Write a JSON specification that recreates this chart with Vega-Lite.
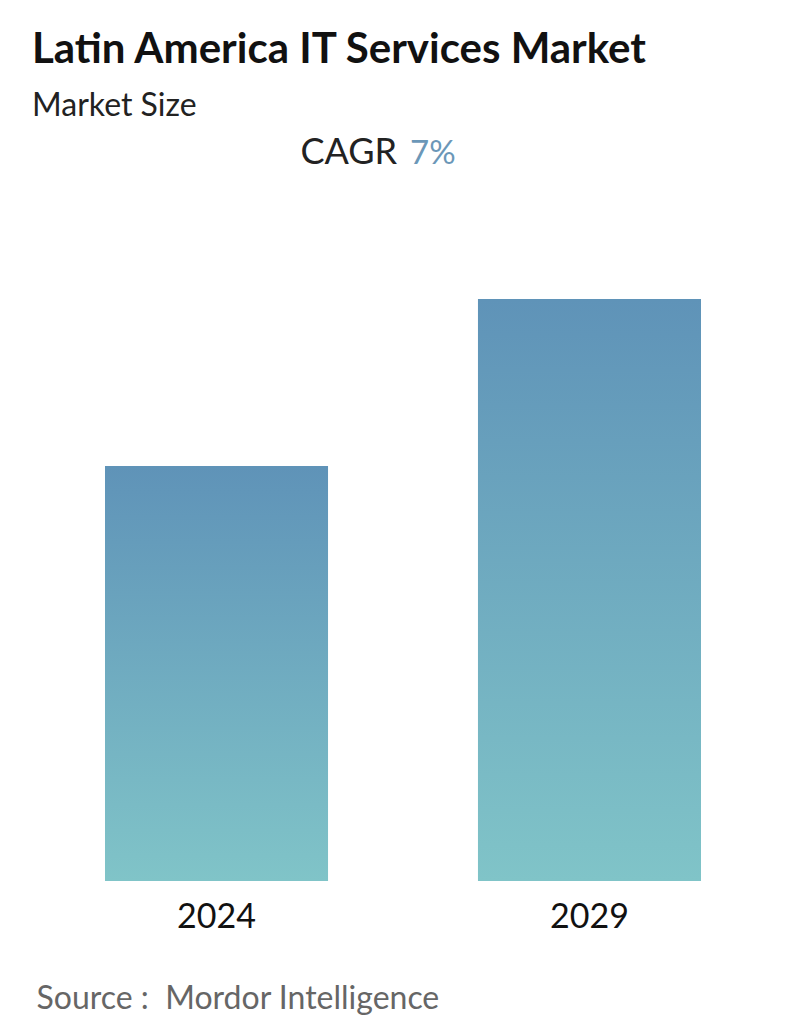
{
  "$schema": "https://vega.github.io/schema/vega-lite/v6.json",
  "width": 734,
  "height": 751,
  "autosize": {"type": "none"},
  "padding": {"left": 36, "right": 26, "top": 130, "bottom": 153},
  "background": "#ffffff",
  "config": {"view": {"stroke": null}, "font": "Lato"},
  "title": {
    "text": "Latin America IT Services Market",
    "subtitle": "Market Size",
    "anchor": "start",
    "frame": "group",
    "font": "Lato",
    "fontSize": 42,
    "fontWeight": "bold",
    "color": "#111111",
    "subtitleFont": "Lato",
    "subtitleFontSize": 32,
    "subtitleColor": "#222222",
    "subtitlePadding": 19,
    "offset": 7,
    "dx": -4
  },
  "layer": [
    {
      "data": {"values": [{"year": "2024", "size": 41.5}, {"year": "2029", "size": 58.2}]},
      "mark": {
        "type": "bar",
        "color": {
          "gradient": "linear",
          "x1": 0, "y1": 0, "x2": 0, "y2": 1,
          "stops": [{"offset": 0, "color": "#5f93b8"}, {"offset": 1, "color": "#80c4c8"}]
        }
      },
      "encoding": {
        "x": {
          "field": "year",
          "type": "nominal",
          "scale": {"paddingInner": 0.402, "paddingOuter": 0.185},
          "axis": {
            "title": "Source :\u00a0\u00a0Mordor Intelligence",
            "titleFont": "Lato",
            "titleFontSize": 32,
            "titleFontWeight": "normal",
            "titleColor": "#666666",
            "titleAnchor": "start",
            "titleAlign": "left",
            "titlePadding": 49,
            "labelFont": "Lato",
            "labelFontSize": 34,
            "labelColor": "#111111",
            "labelAngle": 0,
            "labelPadding": 19,
            "domain": false,
            "ticks": false,
            "grid": false
          }
        },
        "y": {
          "field": "size",
          "type": "quantitative",
          "scale": {"domain": [0, 75.1], "nice": false},
          "axis": null
        }
      }
    },
    {
      "data": {"values": [{"label": "CAGR", "pos": 71.7}]},
      "mark": {"type": "text", "align": "right", "baseline": "alphabetic", "dx": -6, "fontSize": 36, "font": "Lato", "color": "#222222"},
      "encoding": {
        "text": {"field": "label"},
        "y": {"field": "pos", "type": "quantitative"}
      }
    },
    {
      "data": {"values": [{"label": "7%", "pos": 71.7}]},
      "mark": {"type": "text", "align": "left", "baseline": "alphabetic", "dx": 7, "fontSize": 33, "font": "Lato", "color": "#6b97b8"},
      "encoding": {
        "text": {"field": "label"},
        "y": {"field": "pos", "type": "quantitative"}
      }
    }
  ]
}
